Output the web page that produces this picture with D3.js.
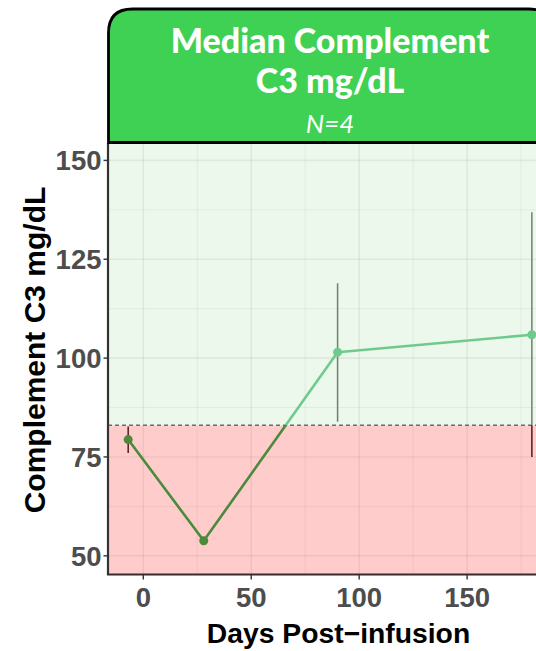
<!DOCTYPE html>
<html>
<head>
<meta charset="utf-8">
<script src="https://cdn.jsdelivr.net/npm/d3@7"></script>
<style>
  html, body { margin: 0; padding: 0; background: #ffffff; }
  svg { display: block; }
</style>
</head>
<body>
<div id="chart"></div>
<script>
// ---- data ----
const days    = [-7, 28, 90, 180];
const medians = [79.4, 53.8, 101.5, 105.9];
const lowers  = [76.0, 53.8, 83.9, 75.0];
const uppers  = [82.7, 53.8, 118.9, 136.9];
const threshold = 83;
const xTicks = [0, 50, 100, 150];
const yTicks = [50, 75, 100, 125, 150];
const xMinor = [-25, 25, 75, 125, 175];
const yMinor = [62.5, 87.5, 112.5, 137.5];
const titleLines = ["Median Complement", "C3 mg/dL"];
const subtitle = "N=4";
const xLabel = "Days Post\u2212infusion";
const yLabel = "Complement C3 mg/dL";

const W = 536, H = 651;
const panel = { left: 108, right: 569, top: 143, bottom: 574 };

const svg = d3.select("#chart").append("svg")
  .attr("width", W).attr("height", H);

const x = d3.scaleLinear().domain([-16.35, 197.2]).range([panel.left, panel.right]);
const y = d3.scaleLinear().domain([45.4, 154.4]).range([panel.bottom, panel.top]);

const defs = svg.append("defs");
defs.append("clipPath").attr("id", "clipPanel").append("rect")
  .attr("x", panel.left).attr("y", panel.top)
  .attr("width", panel.right - panel.left).attr("height", panel.bottom - panel.top);
defs.append("clipPath").attr("id", "clipAbove").append("rect")
  .attr("x", panel.left).attr("y", panel.top)
  .attr("width", panel.right - panel.left).attr("height", y(threshold) - panel.top);
defs.append("clipPath").attr("id", "clipBelow").append("rect")
  .attr("x", panel.left).attr("y", y(threshold))
  .attr("width", panel.right - panel.left).attr("height", panel.bottom - y(threshold));

const g = svg.append("g").attr("clip-path", "url(#clipPanel)");

// background regions
g.append("rect").attr("x", panel.left).attr("y", panel.top)
  .attr("width", panel.right - panel.left).attr("height", y(threshold) - panel.top)
  .attr("fill", "#ebf8eb");
g.append("rect").attr("x", panel.left).attr("y", y(threshold))
  .attr("width", panel.right - panel.left).attr("height", panel.bottom - y(threshold))
  .attr("fill", "#ffcccc");

// grid
const grid = g.append("g");
grid.selectAll(".hmin").data(yMinor).join("line")
  .attr("x1", panel.left).attr("x2", panel.right)
  .attr("y1", d => y(d)).attr("y2", d => y(d))
  .attr("stroke", "rgba(0,0,0,0.05)").attr("stroke-width", 1);
grid.selectAll(".vmin").data(xMinor).join("line")
  .attr("y1", panel.top).attr("y2", panel.bottom)
  .attr("x1", d => x(d)).attr("x2", d => x(d))
  .attr("stroke", "rgba(0,0,0,0.05)").attr("stroke-width", 1);
grid.selectAll(".hmaj").data(yTicks).join("line")
  .attr("x1", panel.left).attr("x2", panel.right)
  .attr("y1", d => y(d)).attr("y2", d => y(d))
  .attr("stroke", "rgba(0,0,0,0.06)").attr("stroke-width", 1.6);
grid.selectAll(".vmaj").data(xTicks).join("line")
  .attr("y1", panel.top).attr("y2", panel.bottom)
  .attr("x1", d => x(d)).attr("x2", d => x(d))
  .attr("stroke", "rgba(0,0,0,0.06)").attr("stroke-width", 1.6);

// threshold dashed line
g.append("line")
  .attr("x1", panel.left).attr("x2", panel.right)
  .attr("y1", y(threshold)).attr("y2", y(threshold))
  .attr("stroke", "#6b6b6b").attr("stroke-width", 1.6)
  .attr("stroke-dasharray", "4,3");

const idx = d3.range(days.length);
const lineGen = d3.line().x(i => x(days[i])).y(i => y(medians[i]));

function drawSeries(clipId, barColor, lineColor) {
  const s = g.append("g").attr("clip-path", `url(#${clipId})`);
  s.selectAll(".err").data(idx).join("line")
    .attr("x1", i => x(days[i])).attr("x2", i => x(days[i]))
    .attr("y1", i => y(lowers[i])).attr("y2", i => y(uppers[i]))
    .attr("stroke", barColor).attr("stroke-width", 1.5);
  s.append("path").datum(idx).attr("d", lineGen)
    .attr("fill", "none").attr("stroke", lineColor).attr("stroke-width", 2.6)
    .attr("stroke-linejoin", "round");
  s.selectAll(".pt").data(idx).join("circle")
    .attr("cx", i => x(days[i])).attr("cy", i => y(medians[i]))
    .attr("r", 4.5).attr("fill", lineColor);
}
drawSeries("clipAbove", "#707f70", "#6fcb8c");
drawSeries("clipBelow", "#561a1a", "#4b8a3c");

// axes
const axisG = svg.append("g");
axisG.append("line").attr("x1", panel.left).attr("x2", panel.left)
  .attr("y1", panel.top).attr("y2", panel.bottom + 1)
  .attr("stroke", "#333333").attr("stroke-width", 2.2);
axisG.append("line").attr("x1", panel.left - 1).attr("x2", panel.right)
  .attr("y1", panel.bottom + 0.5).attr("y2", panel.bottom + 0.5)
  .attr("stroke", "#3a2a2a").attr("stroke-width", 2.2);

axisG.selectAll(".yt").data(yTicks).join("line")
  .attr("x1", panel.left - 4.5).attr("x2", panel.left)
  .attr("y1", d => y(d)).attr("y2", d => y(d))
  .attr("stroke", "#333333").attr("stroke-width", 1.4);
axisG.selectAll(".xt").data(xTicks).join("line")
  .attr("y1", panel.bottom + 1).attr("y2", panel.bottom + 5.5)
  .attr("x1", d => x(d)).attr("x2", d => x(d))
  .attr("stroke", "#333333").attr("stroke-width", 1.4);

const tickFont = "'Liberation Sans', Arial, sans-serif";
axisG.selectAll(".ytl").data(yTicks).join("text")
  .attr("x", panel.left - 6.5).attr("y", d => y(d))
  .attr("dy", "0.36em")
  .attr("text-anchor", "end")
  .attr("font-family", tickFont).attr("font-weight", "bold")
  .attr("font-size", 27.5).attr("fill", "#4d4d4d")
  .text(d => d);
axisG.selectAll(".xtl").data(xTicks).join("text")
  .attr("x", d => x(d)).attr("y", 606.5)
  .attr("text-anchor", "middle")
  .attr("font-family", tickFont).attr("font-weight", "bold")
  .attr("font-size", 27.5).attr("fill", "#4d4d4d")
  .text(d => d);

// axis titles
svg.append("text")
  .attr("x", (panel.left + panel.right) / 2).attr("y", 643)
  .attr("text-anchor", "middle")
  .attr("font-family", tickFont).attr("font-weight", "bold")
  .attr("font-size", 28.3).attr("fill", "#000")
  .text(xLabel);
svg.append("text")
  .attr("transform", `translate(44.5, 350) rotate(-90)`)
  .attr("text-anchor", "middle")
  .attr("font-family", tickFont).attr("font-weight", "bold")
  .attr("font-size", 30).attr("fill", "#000")
  .text(yLabel);

// title box (strip)
const bx0 = 108.5, bx1 = 553, by0 = 9, by1 = 142.5, r = 24;
const boxPath = `M${bx0},${by1} L${bx0},${by0 + r} Q${bx0},${by0} ${bx0 + r},${by0} L${bx1 - r},${by0} Q${bx1},${by0} ${bx1},${by0 + r} L${bx1},${by1} Z`;
svg.append("path").attr("d", boxPath)
  .attr("fill", "#3ed154").attr("stroke", "#000").attr("stroke-width", 2.8);

const titleFont = "Lato, 'Open Sans', sans-serif";
const cx = 330;
svg.selectAll(".tl").data(titleLines).join("text")
  .attr("x", cx).attr("y", (d, i) => 52.5 + i * 40)
  .attr("text-anchor", "middle")
  .attr("font-family", titleFont).attr("font-weight", "900")
  .attr("font-size", 34).attr("fill", "#ffffff")
  .text(d => d);
svg.append("text")
  .attr("x", cx).attr("y", 133)
  .attr("text-anchor", "middle")
  .attr("font-family", titleFont).attr("font-style", "italic")
  .attr("font-size", 26).attr("fill", "#ffffff")
  .text(subtitle);
</script>
</body>
</html>
